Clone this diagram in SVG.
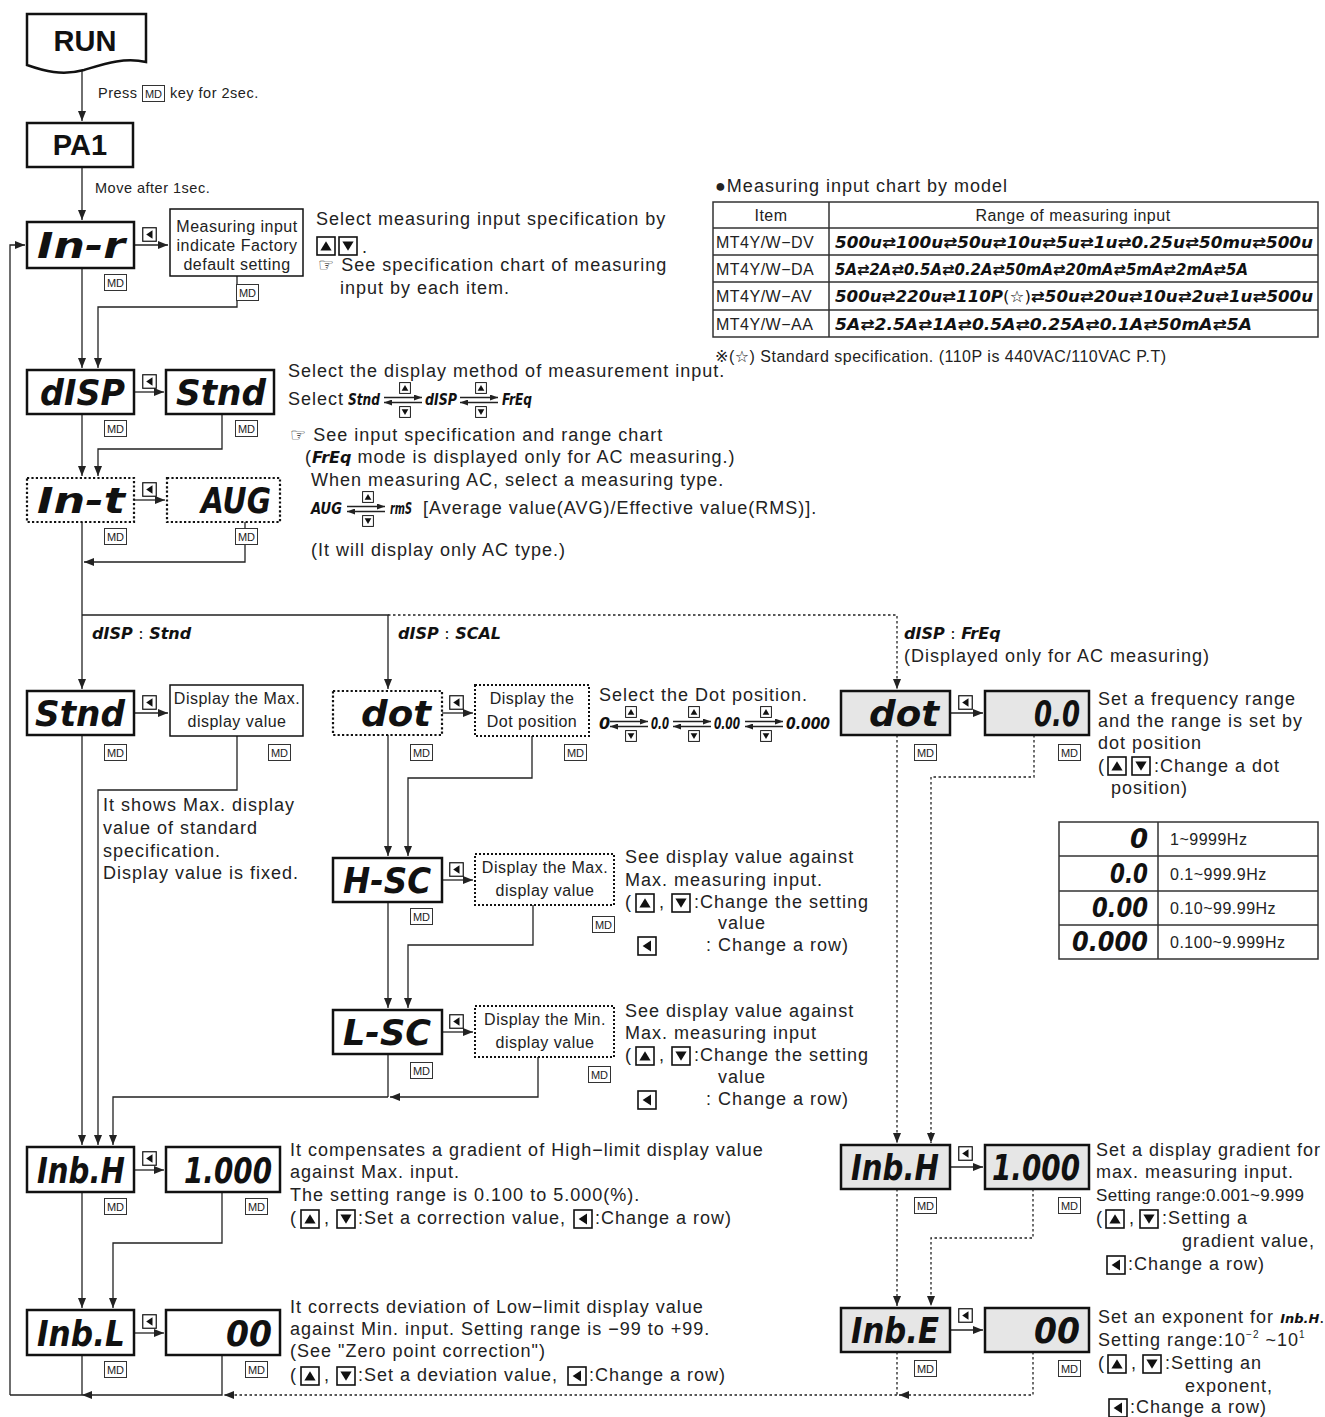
<svg xmlns="http://www.w3.org/2000/svg" width="1325" height="1417" viewBox="0 0 1325 1417">
<style>
text{font-family:"Liberation Sans","DejaVu Sans","Noto Sans CJK KR",sans-serif;fill:#222}
.b{font-size:18px;letter-spacing:1px}
.m{font-size:16px;letter-spacing:0.5px}
.p{font-size:14.5px;letter-spacing:0.5px}
.k{font-size:11px}
.h{font-size:29px;font-weight:bold;fill:#111}
.sg{font-family:"DejaVu Sans","Liberation Sans",sans-serif;font-weight:bold;font-style:italic;fill:#111;letter-spacing:0}
.big{font-size:36px}
.ss{font-size:16px}
.bx{fill:#fff;stroke:#111;stroke-width:2.5}
.gx{fill:#e6e6e6;stroke:#111;stroke-width:2.5}
.dx{fill:#fff;stroke:#111;stroke-width:2.2;stroke-dasharray:2.2 2.2}
.tx{fill:#fff;stroke:#111;stroke-width:1.5}
.tdx{fill:#fff;stroke:#111;stroke-width:2;stroke-dasharray:2 2}
.ln{fill:none;stroke:#222;stroke-width:1.3}
.dl{fill:none;stroke:#222;stroke-width:1.3;stroke-dasharray:2.5 2.5}
.tb{fill:none;stroke:#333;stroke-width:1.5}
</style>
<defs>
<marker id="a" viewBox="0 0 10 8" refX="10" refY="4" markerWidth="10" markerHeight="8" markerUnits="userSpaceOnUse" orient="auto"><path d="M0,0L10,4L0,8z" fill="#222"/></marker>
<marker id="as" viewBox="0 0 8 6" refX="8" refY="3" markerWidth="8" markerHeight="6" markerUnits="userSpaceOnUse" orient="auto"><path d="M0,0L8,3L0,6z" fill="#222"/></marker>
<g id="kL"><rect x="0.5" y="0.5" width="9" height="9" fill="#fff" stroke="#111" stroke-width="0.8"/><path d="M7,2.2L2.8,5L7,7.8z" fill="#111"/></g>
<g id="kU"><rect x="0.5" y="0.5" width="9" height="9" fill="#fff" stroke="#111" stroke-width="0.8"/><path d="M2.2,7.2L5,2.6L7.8,7.2z" fill="#111"/></g>
<g id="kD"><rect x="0.5" y="0.5" width="9" height="9" fill="#fff" stroke="#111" stroke-width="0.8"/><path d="M2.2,2.8L5,7.4L7.8,2.8z" fill="#111"/></g>
<g id="md"><rect x="0.5" y="0.5" width="22" height="16" fill="#fff" stroke="#333" stroke-width="1"/><text x="11.5" y="12.8" text-anchor="middle" class="k">MD</text></g>
<g id="sw"><line class="ln" x1="0" y1="-2.5" x2="38" y2="-2.5" marker-end="url(#as)"/><line class="ln" x1="38" y1="2.5" x2="0" y2="2.5" marker-end="url(#as)"/><use href="#kU" transform="translate(15,-18) scale(1.2)"/><use href="#kD" transform="translate(15,6) scale(1.2)"/></g>
</defs>
<rect width="1325" height="1417" fill="#fff"/>

<!-- connectors -->
<g id="connectors">
<path class="ln" d="M82,70V121" marker-end="url(#a)"/>
<path class="ln" d="M82,167V220" marker-end="url(#a)"/>
<path class="ln" d="M10,1395V245H25" marker-end="url(#a)"/>
<path class="ln" d="M134,245H168" marker-end="url(#a)"/>
<path class="ln" d="M82,268V368" marker-end="url(#a)"/>
<path class="ln" d="M237,276V307H98V368" marker-end="url(#a)"/>
<path class="ln" d="M134,392H164" marker-end="url(#a)"/>
<path class="ln" d="M82,414V476" marker-end="url(#a)"/>
<path class="ln" d="M222,414V449H98V476" marker-end="url(#a)"/>
<path class="ln" d="M134,500H165" marker-end="url(#a)"/>
<path class="ln" d="M82,522V615"/>
<path class="ln" d="M245,522V562H84" marker-end="url(#a)"/>
<path class="ln" d="M82,615V689" marker-end="url(#a)"/>
<path class="ln" d="M82,615H388V689" marker-end="url(#a)"/>
<path class="dl" d="M388,615H897V689" marker-end="url(#a)"/>
<path class="ln" d="M134,713H168" marker-end="url(#a)"/>
<path class="ln" d="M82,735V1145" marker-end="url(#a)"/>
<path class="ln" d="M237,736V790H98V1145" marker-end="url(#a)"/>
<path class="ln" d="M442,713H473" marker-end="url(#a)"/>
<path class="ln" d="M388,735V856" marker-end="url(#a)"/>
<path class="ln" d="M532,736V778H408V856" marker-end="url(#a)"/>
<path class="ln" d="M442,880H473" marker-end="url(#a)"/>
<path class="ln" d="M388,902V1008" marker-end="url(#a)"/>
<path class="ln" d="M533,905V945H408V1008" marker-end="url(#a)"/>
<path class="ln" d="M442,1032H473" marker-end="url(#a)"/>
<path class="ln" d="M388,1054V1097"/>
<path class="ln" d="M538,1057V1097H390" marker-end="url(#a)"/>
<path class="ln" d="M388,1097H113V1145" marker-end="url(#a)"/>
<path class="ln" d="M134,1170H164" marker-end="url(#a)"/>
<path class="ln" d="M82,1192V1308" marker-end="url(#a)"/>
<path class="ln" d="M222,1192V1243H113V1308" marker-end="url(#a)"/>
<path class="ln" d="M134,1333H164" marker-end="url(#a)"/>
<path class="ln" d="M82,1355V1395"/>
<path class="ln" d="M222,1355V1395H82" marker-end="url(#a)"/>
<path class="ln" d="M82,1395H10"/>
<path class="dl" d="M897,1395H224" marker-end="url(#a)"/>
<path class="ln" d="M950,713H983" marker-end="url(#a)"/>
<path class="dl" d="M897,735V1143" marker-end="url(#a)"/>
<path class="dl" d="M1034,735V777H931V1143" marker-end="url(#a)"/>
<path class="ln" d="M950,1167H983" marker-end="url(#a)"/>
<path class="dl" d="M897,1189V1306" marker-end="url(#a)"/>
<path class="dl" d="M1033,1189V1238H931V1306" marker-end="url(#a)"/>
<path class="ln" d="M950,1330H983" marker-end="url(#a)"/>
<path class="dl" d="M897,1352V1395"/>
<path class="dl" d="M1033,1352V1395H899" marker-end="url(#a)"/>
</g>

<!-- nodes -->
<g id="run"><path class="bx" stroke-width="2" d="M27,14H146V62C124,57 104,64 84,70C62,76 44,71 27,65Z"/><text class="h" x="85" y="51" text-anchor="middle">RUN</text></g>
<g id="press"><text class="p" x="98" y="98">Press</text><use href="#md" x="142" y="85"/><text class="p" x="170" y="98">key for 2sec.</text></g>
<g id="pa1"><rect class="bx" stroke-width="2" x="27" y="123" width="106" height="44"/><text class="h" x="80" y="155" text-anchor="middle">PA1</text></g>
<text class="p" x="95" y="193">Move after 1sec.</text>

<g id="in-r"><rect class="bx" x="27" y="222" width="107" height="46"/><text class="sg big" x="125" y="258" text-anchor="end" textLength="88" lengthAdjust="spacingAndGlyphs">In-r</text>
<use href="#kL" transform="translate(142,227) scale(1.5)"/><use href="#md" x="104" y="274"/></g>
<g id="meas-default"><rect class="tx" x="170" y="209" width="133" height="67"/><text class="m" x="237" y="232" text-anchor="middle">Measuring input</text><text class="m" x="237" y="251" text-anchor="middle">indicate Factory</text><text class="m" x="237" y="270" text-anchor="middle">default setting</text><use href="#md" x="236" y="284"/></g>
<g id="in-r-text"><text class="b" x="316" y="225">Select measuring input specification by</text>
<use href="#kU" transform="translate(316,236) scale(2)"/><use href="#kD" transform="translate(338,236) scale(2)"/><text class="b" x="362" y="253">.</text>
<text class="b" x="318" y="271">☞ See specification chart of measuring</text><text class="b" x="340" y="294">input by each item.</text></g>

<g id="chart">
<text class="b" x="715" y="192" font-size="17">●Measuring input chart by model</text>
<rect class="tb" x="713" y="202" width="605" height="135"/>
<path class="tb" d="M829,202V337M713,228H1318M713,255H1318M713,282H1318M713,310H1318"/>
<text class="m" x="771" y="221" text-anchor="middle">Item</text>
<text class="m" x="1073" y="221" text-anchor="middle">Range of measuring input</text>
<text class="m" x="716" y="248">MT4Y/W−DV</text>
<text class="m" x="716" y="275">MT4Y/W−DA</text>
<text class="m" x="716" y="302">MT4Y/W−AV</text>
<text class="m" x="716" y="330">MT4Y/W−AA</text>
<text class="sg ss" x="835" y="248" textLength="478" lengthAdjust="spacingAndGlyphs">500u⇄100u⇄50u⇄10u⇄5u⇄1u⇄0.25u⇄50mu⇄500u</text>
<text class="sg ss" x="835" y="275" textLength="413" lengthAdjust="spacingAndGlyphs">5A⇄2A⇄0.5A⇄0.2A⇄50mA⇄20mA⇄5mA⇄2mA⇄5A</text>
<text class="sg ss" x="835" y="302" textLength="478" lengthAdjust="spacingAndGlyphs">500u⇄220u⇄110P<tspan font-weight="normal" font-style="normal">(☆)</tspan>⇄50u⇄20u⇄10u⇄2u⇄1u⇄500u</text>
<text class="sg ss" x="835" y="330" textLength="417" lengthAdjust="spacingAndGlyphs">5A⇄2.5A⇄1A⇄0.5A⇄0.25A⇄0.1A⇄50mA⇄5A</text>
<text class="m" x="715" y="362">※(☆) Standard specification. (110P is 440VAC/110VAC P.T)</text>
</g>

<g id="disp"><rect class="bx" x="27" y="370" width="107" height="44"/><text class="sg big" x="125" y="405" text-anchor="end" textLength="85" lengthAdjust="spacingAndGlyphs">dISP</text>
<use href="#kL" transform="translate(142,374) scale(1.5)"/><use href="#md" x="104" y="420"/></g>
<g id="disp-stnd"><rect class="bx" x="166" y="370" width="108" height="44"/><text class="sg big" x="266" y="405" text-anchor="end" textLength="90" lengthAdjust="spacingAndGlyphs">Stnd</text><use href="#md" x="235" y="420"/></g>
<g id="disp-text">
<text class="b" x="288" y="377">Select the display method of measurement input.</text>
<text class="b" x="288" y="405">Select</text>
<text class="sg ss" x="348" y="405" textLength="32" lengthAdjust="spacingAndGlyphs">Stnd</text>
<use href="#sw" transform="translate(384,400)"/>
<text class="sg ss" x="425" y="405" textLength="32" lengthAdjust="spacingAndGlyphs">dISP</text>
<use href="#sw" transform="translate(460,400)"/>
<text class="sg ss" x="502" y="405" textLength="30" lengthAdjust="spacingAndGlyphs">FrEq</text>
<text class="b" x="290" y="441">☞ See input specification and range chart</text>
<text class="b" x="305" y="463">(<tspan class="sg ss">FrEq</tspan> mode is displayed only for AC measuring.)</text>
</g>

<g id="in-t"><rect class="dx" x="27" y="478" width="107" height="44"/><text class="sg big" x="125" y="513" text-anchor="end" textLength="88" lengthAdjust="spacingAndGlyphs">In-t</text>
<use href="#kL" transform="translate(142,482) scale(1.5)"/><use href="#md" x="104" y="528"/></g>
<g id="aug"><rect class="dx" x="167" y="478" width="113" height="44"/><text class="sg big" x="271" y="513" text-anchor="end" textLength="70" lengthAdjust="spacingAndGlyphs">AUG</text><use href="#md" x="235" y="528"/></g>
<g id="in-t-text">
<text class="b" x="311" y="486">When measuring AC, select a measuring type.</text>
<text class="sg ss" x="311" y="514" textLength="31" lengthAdjust="spacingAndGlyphs">AUG</text>
<use href="#sw" transform="translate(347,509)"/>
<text class="sg ss" x="390" y="514" textLength="22" lengthAdjust="spacingAndGlyphs">rmS</text>
<text class="b" x="423" y="514">[Average value(AVG)/Effective value(RMS)].</text>
<text class="b" x="311" y="556">(It will display only AC type.)</text>
</g>

<g id="branch-labels">
<text class="sg ss" x="92" y="639">dISP <tspan font-weight="normal" font-style="normal">:</tspan> Stnd</text>
<text class="sg ss" x="398" y="639">dISP <tspan font-weight="normal" font-style="normal">:</tspan> SCAL</text>
<text class="sg ss" x="904" y="639">dISP <tspan font-weight="normal" font-style="normal">:</tspan> FrEq</text>
<text class="b" x="904" y="662">(Displayed only for AC measuring)</text>
</g>

<g id="stnd"><rect class="bx" x="27" y="691" width="107" height="44"/><text class="sg big" x="125" y="726" text-anchor="end" textLength="90" lengthAdjust="spacingAndGlyphs">Stnd</text>
<use href="#kL" transform="translate(142,695) scale(1.5)"/><use href="#md" x="104" y="744"/></g>
<g id="stnd-max"><rect class="tx" x="170" y="685" width="133" height="51"/><text class="m" x="237" y="704" text-anchor="middle">Display the Max.</text><text class="m" x="237" y="727" text-anchor="middle">display value</text><use href="#md" x="268" y="744"/></g>
<g id="stnd-text">
<text class="b" x="103" y="811">It shows Max. display</text>
<text class="b" x="103" y="834">value of standard</text>
<text class="b" x="103" y="857">specification.</text>
<text class="b" x="103" y="879">Display value is fixed.</text>
</g>

<g id="dot"><rect class="dx" x="333" y="691" width="109" height="44"/><text class="sg big" x="431" y="726" text-anchor="end" textLength="70" lengthAdjust="spacingAndGlyphs">dot</text>
<use href="#kL" transform="translate(449,695) scale(1.5)"/><use href="#md" x="410" y="744"/></g>
<g id="dot-pos"><rect class="tdx" x="475" y="685" width="114" height="51"/><text class="m" x="532" y="704" text-anchor="middle">Display the</text><text class="m" x="532" y="727" text-anchor="middle">Dot position</text><use href="#md" x="564" y="744"/></g>
<g id="dot-text">
<text class="b" x="599" y="701">Select the Dot position.</text>
<text class="sg ss" x="599" y="729">0</text>
<use href="#sw" transform="translate(610,724)"/>
<text class="sg ss" x="651" y="729" textLength="18" lengthAdjust="spacingAndGlyphs">0.0</text>
<use href="#sw" transform="translate(673,724)"/>
<text class="sg ss" x="714" y="729" textLength="26" lengthAdjust="spacingAndGlyphs">0.00</text>
<use href="#sw" transform="translate(745,724)"/>
<text class="sg ss" x="786" y="729" textLength="44" lengthAdjust="spacingAndGlyphs">0.000</text>
</g>

<g id="freq-dot"><rect class="gx" x="841" y="691" width="109" height="44"/><text class="sg big" x="939" y="726" text-anchor="end" textLength="70" lengthAdjust="spacingAndGlyphs">dot</text>
<use href="#kL" transform="translate(958,695) scale(1.5)"/><use href="#md" x="914" y="744"/></g>
<g id="freq-val"><rect class="gx" x="985" y="691" width="104" height="44"/><text class="sg big" x="1080" y="726" text-anchor="end" textLength="46" lengthAdjust="spacingAndGlyphs">0.0</text><use href="#md" x="1058" y="744"/></g>
<g id="freq-text">
<text class="b" x="1098" y="705">Set a frequency range</text>
<text class="b" x="1098" y="727">and the range is set by</text>
<text class="b" x="1098" y="749">dot position</text>
<text class="b" x="1098" y="772">(</text><use href="#kU" transform="translate(1107,756) scale(2)"/><use href="#kD" transform="translate(1131,756) scale(2)"/><text class="b" x="1154" y="772">:Change a dot</text>
<text class="b" x="1111" y="794">position)</text>
</g>

<g id="freq-table">
<rect class="tb" x="1059" y="822" width="259" height="137"/>
<path class="tb" d="M1158,822V959M1059,856H1318M1059,891H1318M1059,925H1318"/>
<text class="sg" font-size="26" x="1148" y="848" text-anchor="end">0</text>
<text class="sg" font-size="26" x="1148" y="883" text-anchor="end" textLength="38" lengthAdjust="spacingAndGlyphs">0.0</text>
<text class="sg" font-size="26" x="1148" y="917" text-anchor="end" textLength="56" lengthAdjust="spacingAndGlyphs">0.00</text>
<text class="sg" font-size="26" x="1148" y="951" text-anchor="end" textLength="76" lengthAdjust="spacingAndGlyphs">0.000</text>
<text class="m" font-size="17" x="1170" y="845">1~9999Hz</text>
<text class="m" font-size="17" x="1170" y="880">0.1~999.9Hz</text>
<text class="m" font-size="17" x="1170" y="914">0.10~99.99Hz</text>
<text class="m" font-size="17" x="1170" y="948">0.100~9.999Hz</text>
</g>

<g id="h-sc"><rect class="bx" x="333" y="858" width="109" height="44"/><text class="sg big" x="431" y="893" text-anchor="end" textLength="88" lengthAdjust="spacingAndGlyphs">H-SC</text>
<use href="#kL" transform="translate(449,862) scale(1.5)"/><use href="#md" x="410" y="908"/></g>
<g id="h-sc-max"><rect class="tdx" x="475" y="854" width="139" height="51"/><text class="m" x="545" y="873" text-anchor="middle">Display the Max.</text><text class="m" x="545" y="896" text-anchor="middle">display value</text><use href="#md" x="592" y="916"/></g>
<g id="h-sc-text">
<text class="b" x="625" y="863">See display value against</text>
<text class="b" x="625" y="886">Max. measuring input.</text>
<text class="b" x="625" y="908">(</text><use href="#kU" transform="translate(635,893) scale(2)"/><text class="b" x="659" y="908">,</text><use href="#kD" transform="translate(671,893) scale(2)"/><text class="b" x="694" y="908">:Change the setting</text>
<text class="b" x="718" y="929">value</text>
<use href="#kL" transform="translate(637,936) scale(2)"/><text class="b" x="706" y="951">: Change a row)</text>
</g>

<g id="l-sc"><rect class="bx" x="333" y="1010" width="109" height="44"/><text class="sg big" x="431" y="1045" text-anchor="end" textLength="88" lengthAdjust="spacingAndGlyphs">L-SC</text>
<use href="#kL" transform="translate(449,1014) scale(1.5)"/><use href="#md" x="410" y="1062"/></g>
<g id="l-sc-min"><rect class="tdx" x="475" y="1006" width="139" height="51"/><text class="m" x="545" y="1025" text-anchor="middle">Display the Min.</text><text class="m" x="545" y="1048" text-anchor="middle">display value</text><use href="#md" x="588" y="1066"/></g>
<g id="l-sc-text">
<text class="b" x="625" y="1017">See display value against</text>
<text class="b" x="625" y="1039">Max. measuring input</text>
<text class="b" x="625" y="1061">(</text><use href="#kU" transform="translate(635,1046) scale(2)"/><text class="b" x="659" y="1061">,</text><use href="#kD" transform="translate(671,1046) scale(2)"/><text class="b" x="694" y="1061">:Change the setting</text>
<text class="b" x="718" y="1083">value</text>
<use href="#kL" transform="translate(637,1090) scale(2)"/><text class="b" x="706" y="1105">: Change a row)</text>
</g>

<g id="inb-h"><rect class="bx" x="27" y="1147" width="107" height="45"/><text class="sg big" x="125" y="1183" text-anchor="end" textLength="88" lengthAdjust="spacingAndGlyphs">Inb.H</text>
<use href="#kL" transform="translate(142,1151) scale(1.5)"/><use href="#md" x="104" y="1198"/></g>
<g id="inb-h-val"><rect class="bx" x="166" y="1147" width="114" height="45"/><text class="sg big" x="272" y="1183" text-anchor="end" textLength="88" lengthAdjust="spacingAndGlyphs">1.000</text><use href="#md" x="245" y="1198"/></g>
<g id="inb-h-text">
<text class="b" x="290" y="1156">It compensates a gradient of High−limit display value</text>
<text class="b" x="290" y="1178">against Max. input.</text>
<text class="b" x="290" y="1201">The setting range is 0.100 to 5.000(%).</text>
<text class="b" x="290" y="1224">(</text><use href="#kU" transform="translate(300,1209) scale(2)"/><text class="b" x="324" y="1224">,</text><use href="#kD" transform="translate(336,1209) scale(2)"/><text class="b" x="358" y="1224">:Set a correction value,</text><use href="#kL" transform="translate(573,1209) scale(2)"/><text class="b" x="595" y="1224">:Change a row)</text>
</g>

<g id="inb-l"><rect class="bx" x="27" y="1310" width="107" height="45"/><text class="sg big" x="125" y="1346" text-anchor="end" textLength="88" lengthAdjust="spacingAndGlyphs">Inb.L</text>
<use href="#kL" transform="translate(142,1314) scale(1.5)"/><use href="#md" x="104" y="1361"/></g>
<g id="inb-l-val"><rect class="bx" x="166" y="1310" width="114" height="45"/><text class="sg big" x="272" y="1346" text-anchor="end" textLength="46" lengthAdjust="spacingAndGlyphs">00</text><use href="#md" x="245" y="1361"/></g>
<g id="inb-l-text">
<text class="b" x="290" y="1313">It corrects deviation of Low−limit display value</text>
<text class="b" x="290" y="1335">against Min. input. Setting range is −99 to +99.</text>
<text class="b" x="290" y="1357">(See "Zero point correction")</text>
<text class="b" x="290" y="1381">(</text><use href="#kU" transform="translate(300,1366) scale(2)"/><text class="b" x="324" y="1381">,</text><use href="#kD" transform="translate(336,1366) scale(2)"/><text class="b" x="358" y="1381">:Set a deviation value,</text><use href="#kL" transform="translate(567,1366) scale(2)"/><text class="b" x="589" y="1381">:Change a row)</text>
</g>

<g id="g-inb-h"><rect class="gx" x="841" y="1145" width="109" height="44"/><text class="sg big" x="939" y="1180" text-anchor="end" textLength="88" lengthAdjust="spacingAndGlyphs">Inb.H</text>
<use href="#kL" transform="translate(958,1146) scale(1.5)"/><use href="#md" x="914" y="1197"/></g>
<g id="g-inb-h-val"><rect class="gx" x="985" y="1145" width="104" height="44"/><text class="sg big" x="1080" y="1180" text-anchor="end" textLength="88" lengthAdjust="spacingAndGlyphs">1.000</text><use href="#md" x="1058" y="1197"/></g>
<g id="g-inb-h-text">
<text class="b" x="1096" y="1156">Set a display gradient for</text>
<text class="b" x="1096" y="1178">max. measuring input.</text>
<text x="1096" y="1201" font-size="17" letter-spacing="0.3">Setting range:0.001~9.999</text>
<text class="b" x="1096" y="1224">(</text><use href="#kU" transform="translate(1105,1209) scale(2)"/><text class="b" x="1129" y="1224">,</text><use href="#kD" transform="translate(1139,1209) scale(2)"/><text class="b" x="1162" y="1224">:Setting a</text>
<text class="b" x="1182" y="1247">gradient value,</text>
<use href="#kL" transform="translate(1106,1255) scale(2)"/><text class="b" x="1128" y="1270">:Change a row)</text>
</g>

<g id="g-inb-e"><rect class="gx" x="841" y="1308" width="109" height="44"/><text class="sg big" x="939" y="1343" text-anchor="end" textLength="88" lengthAdjust="spacingAndGlyphs">Inb.E</text>
<use href="#kL" transform="translate(958,1308) scale(1.5)"/><use href="#md" x="914" y="1360"/></g>
<g id="g-inb-e-val"><rect class="gx" x="985" y="1308" width="104" height="44"/><text class="sg big" x="1080" y="1343" text-anchor="end" textLength="46" lengthAdjust="spacingAndGlyphs">00</text><use href="#md" x="1058" y="1360"/></g>
<g id="g-inb-e-text">
<text class="b" x="1098" y="1323" letter-spacing="0.5">Set an exponent for <tspan class="sg" font-size="13">Inb.H</tspan>.</text>
<text class="b" x="1098" y="1346">Setting range:10<tspan font-size="10" dy="-8">−2</tspan><tspan dy="8"> ~10</tspan><tspan font-size="10" dy="-8">1</tspan></text>
<text class="b" x="1098" y="1369">(</text><use href="#kU" transform="translate(1107,1354) scale(2)"/><text class="b" x="1131" y="1369">,</text><use href="#kD" transform="translate(1142,1354) scale(2)"/><text class="b" x="1165" y="1369">:Setting an</text>
<text class="b" x="1185" y="1392">exponent,</text>
<use href="#kL" transform="translate(1108,1398) scale(2)"/><text class="b" x="1130" y="1413">:Change a row)</text>
</g>
</svg>
